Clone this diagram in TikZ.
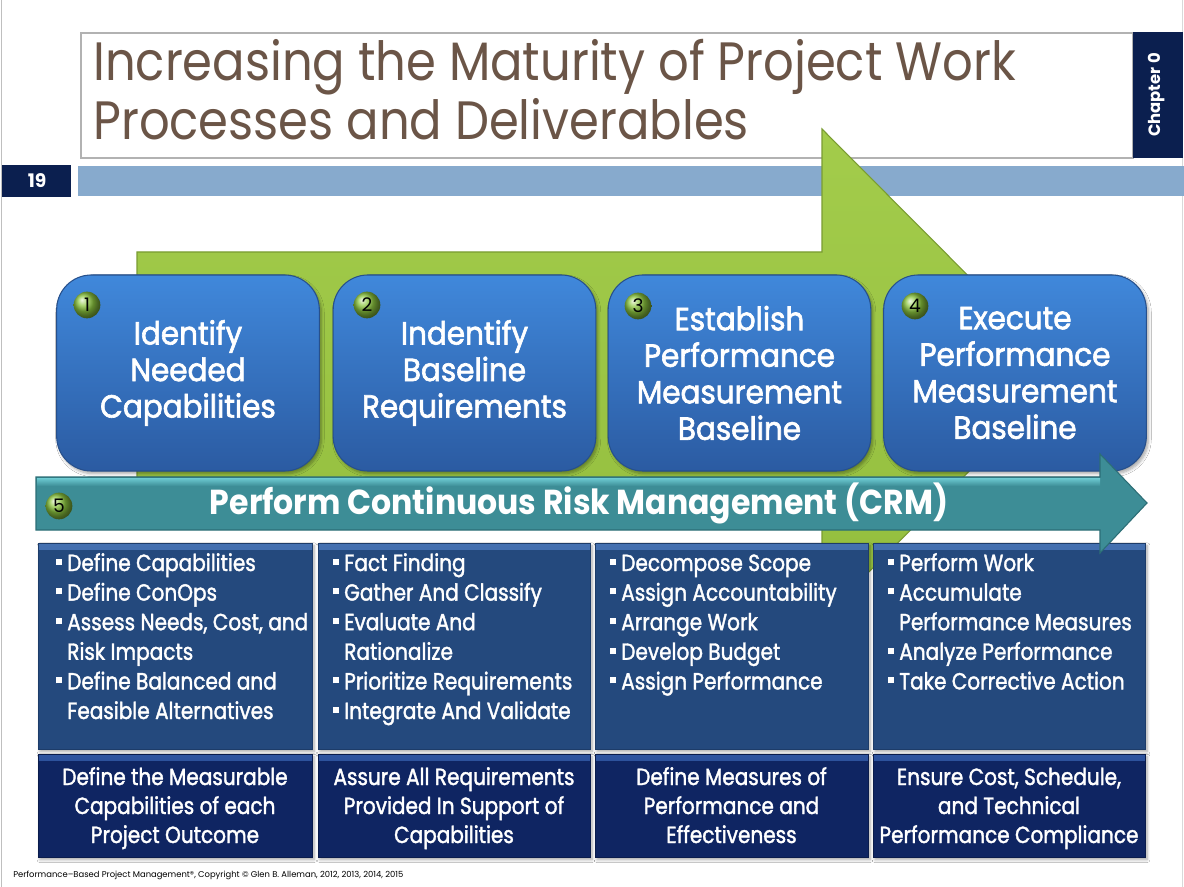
\documentclass[tikz,border=0pt]{standalone}
\usepackage{fontspec}
\setmainfont{Poppins}
\newfontfamily\fttl[FakeStretch=0.89]{Poppins}
\newfontfamily\fstg[FakeStretch=0.92,FakeBold=2]{Poppins}
\newfontfamily\fmd[FakeStretch=0.86,FakeBold=1.6]{Poppins}
\newfontfamily\fbd[FakeStretch=0.91]{Poppins}
\newfontfamily\fnum{Poppins}
\usetikzlibrary{shadows.blur}
\definecolor{titlebrown}{HTML}{6B5547}
\definecolor{navy}{HTML}{0B1F4F}
\definecolor{barblue}{HTML}{87AACD}
\definecolor{greentop}{HTML}{A3CC4B}
\definecolor{greenbot}{HTML}{93BD3E}
\definecolor{greenedge}{HTML}{7A9C32}
\definecolor{stagetop}{HTML}{4088DB}
\definecolor{stagebot}{HTML}{2B5BA2}
\definecolor{stageedge}{HTML}{27508C}
\definecolor{tealfill}{HTML}{3D8D96}
\definecolor{teallight}{HTML}{6DCBD2}
\definecolor{tealedge}{HTML}{2C6E76}
\definecolor{taskfill}{HTML}{24497D}
\definecolor{taskedge}{HTML}{1D3C69}
\definecolor{taskhi}{HTML}{4470B0}
\definecolor{outfill}{HTML}{0F2562}
\definecolor{outedge}{HTML}{0A1C4C}
\definecolor{outhi}{HTML}{2F55A0}
\definecolor{ballgreen}{HTML}{8CC63F}
\newcommand\bsq{\makebox[8.25pt][l]{\rule[4.6pt]{4.6pt}{4.6pt}}}
\newcommand\ind{\hspace*{8.25pt}}
\tikzset{
  myshadow/.style={blur shadow={shadow xshift=1.5pt, shadow yshift=-2pt, shadow opacity=35, shadow blur steps=6}},
  stagebox/.style={draw=stageedge, line width=0.8pt, rounded corners=26pt,
    top color=stagetop, bottom color=stagebot, minimum width=197pt,
    minimum height=147pt, align=center, text=white, inner sep=0pt,
    font=\fstg\fontsize{24}{27.4}\selectfont, myshadow},
  numball/.style={circle, ball color=ballgreen, minimum size=20pt, inner sep=0pt,
    font=\fnum\fontsize{14}{14}\selectfont, text=black},
  taskbox/.style={draw=taskedge, fill=taskfill, minimum height=154.5pt, inner sep=0pt, myshadow,
    path picture={\fill[top color=taskhi, bottom color=taskfill]
      (path picture bounding box.north west) rectangle ([yshift=-5pt]path picture bounding box.north east);}},
  outbox/.style={draw=outedge, fill=outfill, minimum height=77.25pt, inner sep=0pt, myshadow,
    path picture={\fill[top color=outhi, bottom color=outfill]
      (path picture bounding box.north west) rectangle ([yshift=-5pt]path picture bounding box.north east);}},
  bultext/.style={anchor=base west, inner sep=0pt, text=white, font=\fmd\fontsize{17.5}{21}\selectfont},
  outtext/.style={anchor=base, inner sep=0pt, text=white, font=\fmd\fontsize{17.5}{21}\selectfont},
  titletext/.style={anchor=base west, inner sep=0pt, text=titlebrown, font=\fttl\fontsize{40.5}{44}\selectfont},
}
\begin{document}
\begin{tikzpicture}[x=0.75pt,y=-0.75pt]
\useasboundingbox (0,0) rectangle (1184,887);
\fill[white] (0,0) rectangle (1184,887);
\draw[black!25, line width=0.6pt] (1,0) -- (1,887);
\draw[black!15, line width=0.6pt] (1182.5,0) -- (1182.5,887);
% title
\draw[black!30, line width=0.8pt] (81,33) rectangle (1133,158);
\node[titletext] (t1) at (93,81) {Increasing the Maturity of Project Work};
\node[titletext] (t2) at (93,140) {Processes and Deliverables};
\fill[navy] (1133,32) rectangle (1183,158);
\node[rotate=90, text=white, inner sep=0pt, font=\fnum\bfseries\fontsize{12.3}{14}\selectfont] (ch) at (1157,95) {Chapter 0};
\fill[navy] (2,165) rectangle (71,197);
\node[text=white, inner sep=0pt, font=\fnum\bfseries\fontsize{14}{15}\selectfont] (pg) at (37,181) {19};
\fill[barblue] (78,166) rectangle (1184,196);
% big green arrow
\draw[greenedge, line width=0.8pt, top color=greentop, bottom color=greenbot]
  (137,252) -- (822,252) -- (822,129) -- (1066,374) -- (822,619) -- (822,496) -- (137,496) -- cycle;
% stage boxes
\node[stagebox] (s1) at (188,373) {Identify\\Needed\\Capabilities};
\node[stagebox] (s2) at (464.5,373) {Indentify\\Baseline\\Requirements};
\node[stagebox] (s3) at (739.5,373) {Establish\\Performance\\Measurement\\Baseline};
\node[stagebox] (s4) at (1015,373) {Execute\\Performance\\Measurement\\Baseline};
\node[numball] (n1) at (87,305) {1};
\node[numball] (n2) at (367,305) {2};
\node[numball] (n3) at (638,306) {3};
\node[numball] (n4) at (915,306) {4};
% task boxes
\node[taskbox, minimum width=205.5pt] (b1) at (175,646) {};
\node[taskbox, minimum width=204pt] (b2) at (454,646) {};
\node[taskbox, minimum width=204.75pt] (b3) at (731.5,646) {};
\node[taskbox, minimum width=204pt] (b4) at (1009,646) {};
\node[outbox, minimum width=205.5pt] (o1) at (175,805.5) {};
\node[outbox, minimum width=204pt] (o2) at (454,805.5) {};
\node[outbox, minimum width=204.75pt] (o3) at (731.5,805.5) {};
\node[outbox, minimum width=204pt] (o4) at (1009,805.5) {};
\foreach \t [count=\k] in {{\bsq Define Capabilities},{\bsq Define ConOps},{\bsq Assess Needs, Cost, and},{\ind Risk Impacts},{\bsq Define Balanced and},{\ind Feasible Alternatives}}
  \node[bultext] (ta\k) at (56,{571+(\k-1)*29.6}) {\t};
\foreach \t [count=\k] in {{\bsq Fact Finding},{\bsq Gather And Classify},{\bsq Evaluate And},{\ind Rationalize},{\bsq Prioritize Requirements},{\bsq Integrate And Validate}}
  \node[bultext] (tb\k) at (333,{571+(\k-1)*29.6}) {\t};
\foreach \t [count=\k] in {{\bsq Decompose Scope},{\bsq Assign Accountability},{\bsq Arrange Work},{\bsq Develop Budget},{\bsq Assign Performance}}
  \node[bultext] (tc\k) at (610,{571+(\k-1)*29.6}) {\t};
\foreach \t [count=\k] in {{\bsq Perform Work},{\bsq Accumulate},{\ind Performance Measures},{\bsq Analyze Performance},{\bsq Take Corrective Action}}
  \node[bultext] (td\k) at (888,{571+(\k-1)*29.6}) {\t};
\foreach \t [count=\k] in {{Define the Measurable},{Capabilities of each},{Project Outcome}}
  \node[outtext] (oa\k) at (175,{785+(\k-1)*29}) {\t};
\foreach \t [count=\k] in {{Assure All Requirements},{Provided In Support of},{Capabilities}}
  \node[outtext] (ob\k) at (454,{785+(\k-1)*29}) {\t};
\foreach \t [count=\k] in {{Define Measures of},{Performance and},{Effectiveness}}
  \node[outtext] (oc\k) at (731.5,{785+(\k-1)*29}) {\t};
\foreach \t [count=\k] in {{Ensure Cost, Schedule,},{and Technical},{Performance Compliance}}
  \node[outtext] (od\k) at (1009,{785+(\k-1)*29}) {\t};
% CRM arrow
\draw[tealedge, line width=0.8pt, fill=tealfill]
  (36,477) -- (1100,477) -- (1100,454) -- (1147,503) -- (1100,553) -- (1100,530) -- (36,530) -- cycle;
\fill[top color=teallight, bottom color=tealfill] (37,478) -- (1100,478) -- (1100,486) -- (37,486) -- cycle;
\node[text=white, inner sep=0pt, font=\fbd\bfseries\fontsize{26}{28}\selectfont] (crm) at (579,503) {Perform Continuous Risk Management (CRM)};
\node[numball] (n5) at (59,506) {5};
% footer
\node[anchor=base west, inner sep=0pt, text=black, font=\fnum\fontsize{6.3}{8}\selectfont] (foot) at (13,877) {Performance–Based Project Management®, Copyright © Glen B. Alleman, 2012, 2013, 2014, 2015};
\end{tikzpicture}
\end{document}
